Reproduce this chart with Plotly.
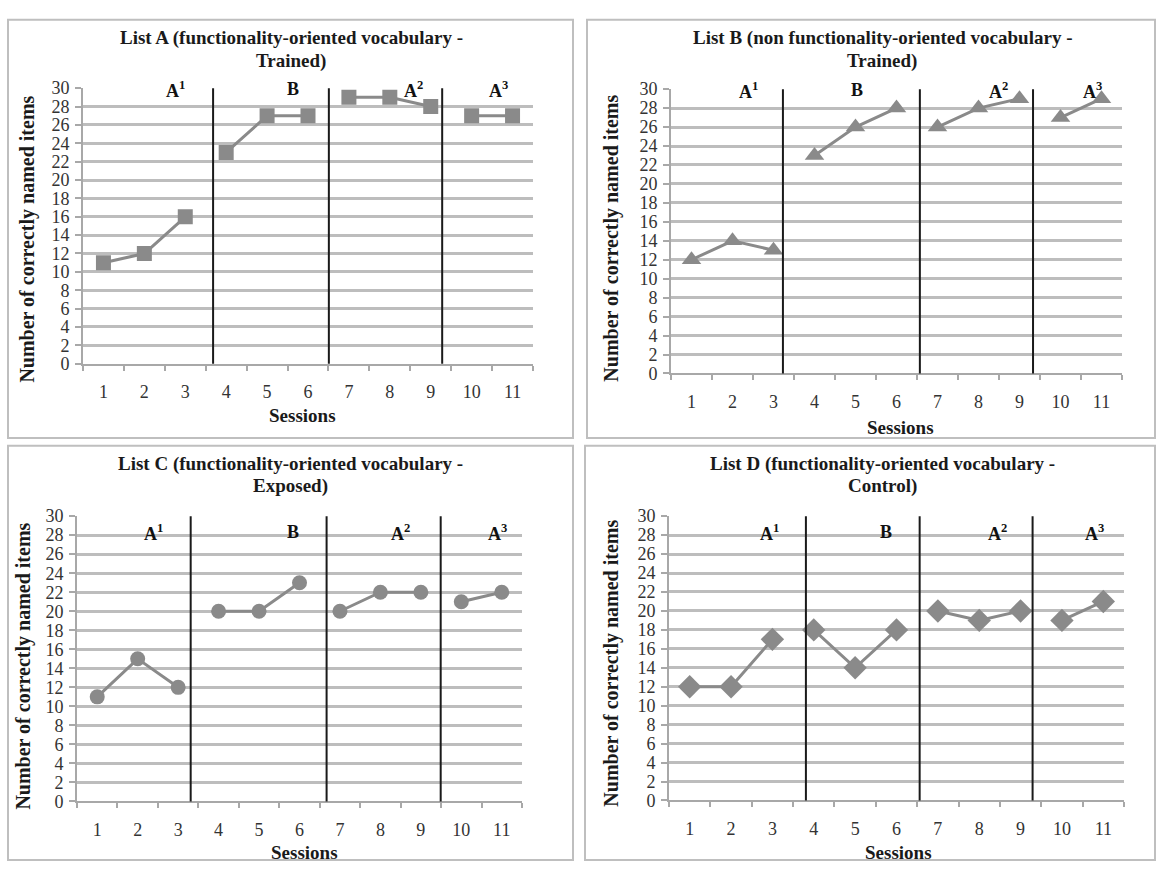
import plotly.graph_objects as go

# ---------------- data ----------------
sessions = [1, 2, 3, 4, 5, 6, 7, 8, 9, 10, 11]
session_labels = ["1", "2", "3", "4", "5", "6", "7", "8", "9", "10", "11"]
phase_groups = [[1, 2, 3], [4, 5, 6], [7, 8, 9], [10, 11]]
phase_labels = ["A<sup>1</sup>", "B", "A<sup>2</sup>", "A<sup>3</sup>"]

list_a = [11, 12, 16, 23, 27, 27, 29, 29, 28, 27, 27]
list_b = [12, 14, 13, 23, 26, 28, 26, 28, 29, 27, 29]
list_c = [11, 15, 12, 20, 20, 23, 20, 22, 22, 21, 22]
list_d = [12, 12, 17, 18, 14, 18, 20, 19, 20, 19, 21]

titles = [
    ["List A (functionality-oriented vocabulary -", "Trained)"],
    ["List B (non functionality-oriented vocabulary -", "Trained)"],
    ["List C (functionality-oriented vocabulary -", "Exposed)"],
    ["List D (functionality-oriented vocabulary -", "Control)"],
]
y_title = "Number of correctly named items"
x_title = "Sessions"

# ---------------- layout config (pixel geometry) ----------------
W, H = 1156, 874
def px(x):
    return x / W
def py(y):
    return 1 - y / H

panels = [
    dict(values=list_a, symbol="square", msize=15,
         plot=(83, 533, 80, 362), border=(8, 573, 10, 438),
         title_x=291, title_y=(29, 52), ytitle=(28, 235), xtitle=(302, 415),
         seps=[3.68, 6.51, 9.28], sep_y=(30.35, -0.1),
         lab_x=[2.75, 5.63, 8.57, 10.65], lab_y=29.9),
    dict(values=list_b, symbol="triangle-up", msize=17,
         plot=(671, 1122, 81, 372), border=(587, 1155, 10, 438),
         title_x=882, title_y=(29, 52), ytitle=(612, 234), xtitle=(900, 427),
         seps=[3.23, 6.57, 9.33], sep_y=(30.3, -0.1),
         lab_x=[2.38, 5.04, 8.48, 10.77], lab_y=29.9),
    dict(values=list_c, symbol="circle", msize=15,
         plot=(77, 522, 518, 810), border=(8, 573, 446, 870),
         title_x=290, title_y=(465, 487), ytitle=(24, 672), xtitle=(304, 862),
         seps=[3.31, 6.67, 9.49], sep_y=(30.6, -0.3),
         lab_x=[2.38, 5.83, 8.5, 10.9], lab_y=28.3),
    dict(values=list_d, symbol="diamond", msize=18,
         plot=(669, 1124, 518, 809), border=(585, 1155, 446, 870),
         title_x=882, title_y=(465, 487), ytitle=(612, 669), xtitle=(898, 862),
         seps=[3.81, 6.56, 9.29], sep_y=(30.6, -0.3),
         lab_x=[2.94, 5.74, 8.45, 10.79], lab_y=28.3),
]

SERIES = "#8a8a8a"
GRID = "#bdbdbd"
AXIS = "#a8a8a8"
SERIF = "Liberation Serif"

fig = go.Figure()
shapes = []
annotations = []

for i, p in enumerate(panels):
    n = "" if i == 0 else str(i + 1)
    xa, ya = "x" + n, "y" + n
    x0, x1, ytop, ybot = p["plot"]

    # data traces, broken between phases
    for grp in phase_groups:
        idx = [sessions.index(s) for s in grp]
        fig.add_trace(go.Scatter(
            x=[sessions[k] for k in idx],
            y=[p["values"][k] for k in idx],
            mode="lines+markers",
            line=dict(color=SERIES, width=3),
            marker=dict(symbol=p["symbol"], size=p["msize"], color=SERIES),
            xaxis=xa, yaxis=ya, showlegend=False, hoverinfo="x+y",
        ))

    fig.update_layout(**{
        "xaxis" + n: dict(
            domain=[px(x0), px(x1)], anchor=ya, range=[0.5, 11.5],
            tickmode="array", tickvals=sessions, ticktext=session_labels,
            ticks="", showgrid=False, zeroline=False,
            showline=True, linecolor=AXIS, linewidth=2,
            ticklabelstandoff=11,
            tickfont=dict(family=SERIF, size=18, color="#333333"),
            minor=dict(tickmode="array",
                       tickvals=[s - 0.5 for s in sessions] + [11.5],
                       ticks="outside", ticklen=5, tickwidth=2,
                       tickcolor=AXIS, showgrid=False),
            fixedrange=True,
        ),
        "yaxis" + n: dict(
            domain=[py(ybot), py(ytop)], anchor=xa, range=[0, 30],
            tickmode="linear", tick0=0, dtick=2,
            ticks="outside", ticklen=6, tickwidth=2, tickcolor=AXIS,
            showgrid=True, gridcolor=GRID, gridwidth=2.5,
            zeroline=False, showline=True, linecolor=AXIS, linewidth=2,
            tickfont=dict(family=SERIF, size=18, color="#333333"),
            ticklabelstandoff=2,
            fixedrange=True,
        ),
    })

    # phase separator lines
    for sx in p["seps"]:
        shapes.append(dict(type="line", xref=xa, yref=ya,
                           x0=sx, x1=sx, y0=p["sep_y"][0], y1=p["sep_y"][1],
                           line=dict(color="#1a1a1a", width=2), layer="above"))

    # phase labels
    for lab, lx in zip(phase_labels, p["lab_x"]):
        annotations.append(dict(text="<b>" + lab + "</b>", xref=xa, yref=ya,
                                x=lx, y=p["lab_y"], showarrow=False,
                                xanchor="center", yanchor="middle",
                                font=dict(family=SERIF, size=18, color="#111111")))

    # panel border
    bx0, bx1, by0, by1 = p["border"]
    shapes.append(dict(type="rect", xref="paper", yref="paper",
                       x0=px(bx0), x1=px(bx1), y0=py(by1), y1=py(by0),
                       line=dict(color="#bfbfbf", width=2), layer="below"))

    # titles (two lines)
    for line_text, ly in zip(titles[i], p["title_y"]):
        annotations.append(dict(text="<b>" + line_text + "</b>", xref="paper", yref="paper",
                                x=px(p["title_x"]), y=py(ly), showarrow=False,
                                xanchor="center", yanchor="middle",
                                font=dict(family=SERIF, size=19, color="#1a1a1a")))
    annotations.append(dict(text="<b>" + y_title + "</b>", xref="paper", yref="paper",
                            x=px(p["ytitle"][0]), y=py(p["ytitle"][1]),
                            showarrow=False, textangle=-90,
                            xanchor="center", yanchor="middle",
                            font=dict(family=SERIF, size=20, color="#1a1a1a")))
    annotations.append(dict(text="<b>" + x_title + "</b>", xref="paper", yref="paper",
                            x=px(p["xtitle"][0]), y=py(p["xtitle"][1]),
                            showarrow=False,
                            xanchor="center", yanchor="middle",
                            font=dict(family=SERIF, size=19, color="#1a1a1a")))

fig.update_layout(
    width=W, height=H,
    margin=dict(l=0, r=0, t=0, b=0),
    paper_bgcolor="white", plot_bgcolor="white",
    shapes=shapes, annotations=annotations,
    showlegend=False,
)

fig.write_html("out.html", include_plotlyjs=True, config={"displayModeBar": False})
